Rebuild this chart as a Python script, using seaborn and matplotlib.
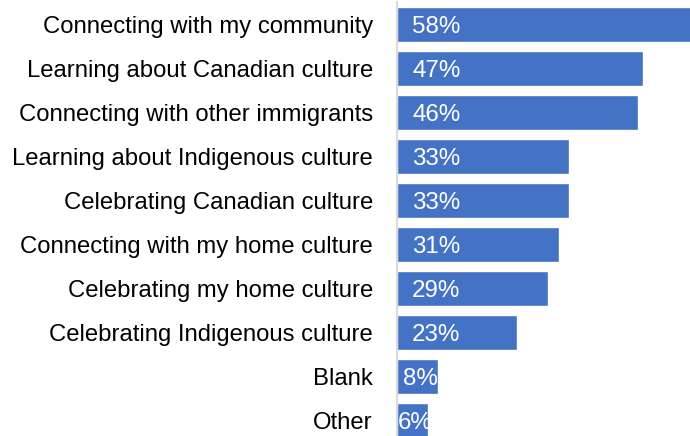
import matplotlib
matplotlib.use("Agg")
import matplotlib.pyplot as plt
import seaborn as sns
import pandas as pd

categories = [
    "Connecting with my community",
    "Learning about Canadian culture",
    "Connecting with other immigrants",
    "Learning about Indigenous culture",
    "Celebrating Canadian culture",
    "Connecting with my home culture",
    "Celebrating my home culture",
    "Celebrating Indigenous culture",
    "Blank",
    "Other",
]
values = [58, 47, 46, 33, 33, 31, 29, 23, 8, 6]

df = pd.DataFrame({"activity": categories, "share": values})

sns.set_theme(style="white")
plt.rcParams["font.family"] = ["Liberation Sans", "DejaVu Sans"]

W, H = 690, 436
fig = plt.figure(figsize=(W / 100, H / 100), dpi=100)
left_px, top_px, pitch = 396.5, 2.5, 44.0
ax_h = pitch * len(categories)
ax = fig.add_axes([left_px / W, 1 - (top_px + ax_h) / H, (W - left_px) / W, ax_h / H])

sns.barplot(data=df, y="activity", x="share", orient="h", color="#4472C4",
            saturation=1, width=0.8, ax=ax)

ax.set_xlim(0, 56)
ax.set_ylim(len(categories) - 0.5, -0.5)
ax.set_xlabel("")
ax.set_ylabel("")
ax.set_xticks([])
ax.tick_params(axis="y", length=0, pad=17, labelsize=17.2, labelcolor="black")
for s in ["top", "right", "bottom"]:
    ax.spines[s].set_visible(False)
ax.spines["left"].set_color("#D9D9D9")
ax.spines["left"].set_linewidth(1.5)

for i, v in enumerate(values):
    ax.text(min(v / 2 + 0.6, 7.6), i, f"{v}%", color="white", fontsize=17.4,
            ha="center", va="center_baseline", clip_on=True)

fig.savefig("out.png", dpi=100)
